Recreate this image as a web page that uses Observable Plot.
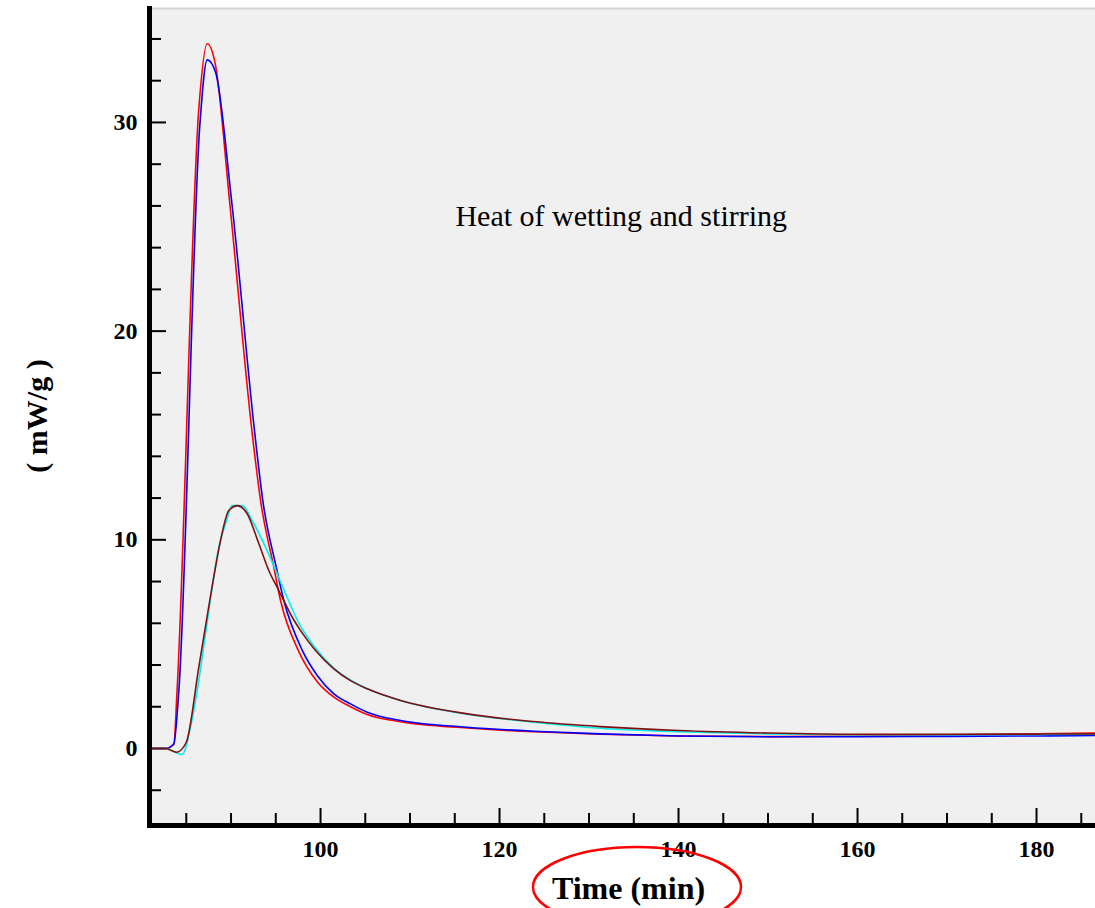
<!DOCTYPE html>
<html><head><meta charset="utf-8">
<script src="https://cdn.jsdelivr.net/npm/d3@7"></script>
<script src="https://cdn.jsdelivr.net/npm/@observablehq/plot@0.6"></script>
<style>html,body{margin:0;padding:0;background:#fff;} svg{display:block}</style>
</head><body><div id="chart"></div>
<script>
// ---- data ----
const redTime  = [81.0, 82.68, 83.61, 83.97, 86.40, 87.34, 88.27, 89.83, 92.37, 93.30, 94.78, 95.53, 97.51, 99.63, 101.49, 103.35, 105.22, 108.94, 116.39, 123.83, 131.28, 140, 150, 160, 170, 180, 186.6];
const redValue = [0, 0, 0.19, 2.78, 30.65, 33.77, 32.73, 26.26, 15.08, 11.88, 8.69, 7.09, 4.70, 3.20, 2.46, 2.00, 1.63, 1.28, 0.98, 0.80, 0.68, 0.60, 0.57, 0.60, 0.65, 0.70, 0.74];

const blueTime  = [81.0, 82.68, 83.61, 84.17, 86.51, 87.34, 88.27, 90.06, 92.66, 93.55, 95.05, 95.90, 97.96, 99.63, 101.49, 103.35, 105.22, 108.94, 116.39, 123.83, 131.28, 140, 150, 160, 170, 180, 186.6];
const blueValue = [0, 0, 0.23, 2.78, 29.85, 33.00, 32.41, 26.26, 15.08, 11.88, 8.69, 7.09, 4.70, 3.50, 2.62, 2.14, 1.74, 1.34, 1.02, 0.83, 0.70, 0.60, 0.56, 0.56, 0.58, 0.60, 0.62];

const cyanTime  = [81.0, 82.68, 84.55, 85.47, 86.40, 87.15, 88.64, 89.39, 90.13, 91.25, 92.37, 93.85, 95.72, 97.65, 99.50, 101.49, 103.35, 105.22, 108.94, 116.39, 123.83, 131.28, 140, 150, 160, 170, 180, 186.6];
const cyanValue = [0, 0, -0.29, 1.02, 3.26, 5.50, 9.65, 10.77, 11.64, 11.64, 10.92, 9.65, 7.80, 5.95, 4.78, 3.85, 3.27, 2.86, 2.30, 1.64, 1.26, 0.97, 0.80, 0.70, 0.66, 0.66, 0.67, 0.68];

const maroonTime  = [81.0, 82.68, 83.91, 85.00, 86.40, 88.27, 88.83, 89.75, 90.69, 91.81, 93.11, 94.22, 95.34, 96.84, 97.77, 99.44, 101.49, 103.35, 105.22, 108.94, 116.39, 123.83, 131.28, 140, 150, 160, 170, 180, 186.6];
const maroonValue = [0, 0, -0.18, 0.30, 3.90, 8.69, 9.97, 11.40, 11.64, 11.25, 9.81, 8.53, 7.57, 6.29, 5.65, 4.70, 3.82, 3.25, 2.86, 2.30, 1.66, 1.29, 1.05, 0.86, 0.74, 0.68, 0.68, 0.69, 0.70];

const yMajor = [0, 10, 20, 30];
const yMinor = [-2, 2, 4, 6, 8, 12, 14, 16, 18, 22, 24, 26, 28, 32, 34];
const xMajor = [100, 120, 140, 160, 180];
const xMinor = [85, 90, 95, 105, 110, 115, 125, 130, 135, 145, 150, 155, 165, 170, 175, 185];

const xTitle = "Time (min)";
const yTitle = "( mW/g )";
const noteText = "Heat of wetting and stirring";
const noteTime = 133.6;
const noteValue = 25.5;

// ---- build ----
const W = 1095, H = 908;
const mL = 149, mR = 0, mT = 8, mB = 83;
const fw = W - mL - mR, fh = H - mT - mB;
const pts = (ts, vs) => ts.map((t, i) => ({t, v: vs[i]}));
const serif = "'Liberation Serif', 'Times New Roman', serif";
const lineOpts = {x: "t", y: "v", strokeWidth: 1.6, curve: "monotone-x"};

const plot = Plot.plot({
  width: W, height: H,
  marginLeft: mL, marginRight: mR, marginTop: mT, marginBottom: mB,
  style: {fontFamily: serif, background: "#fff", color: "#000", overflow: "visible"},
  x: {domain: [80.89, 186.59]},
  y: {domain: [-3.69, 35.46]},
  marks: [
    Plot.frame({fill: "#f0f0f0", stroke: "none"}),
    Plot.frame({anchor: "top", stroke: "#d4d4d4", strokeWidth: 2}),
    Plot.tickY(yMinor, {y: d => d, insetRight: fw - 12, strokeWidth: 2, stroke: "#000"}),
    Plot.tickY(yMajor, {y: d => d, insetRight: fw - 17, strokeWidth: 2, stroke: "#000"}),
    Plot.tickX(xMinor, {x: d => d, insetTop: fh - 12, strokeWidth: 2, stroke: "#000"}),
    Plot.tickX(xMajor, {x: d => d, insetTop: fh - 17, strokeWidth: 2, stroke: "#000"}),
    Plot.line(pts(redTime, redValue), {...lineOpts, stroke: "#ff0000"}),
    Plot.line(pts(blueTime, blueValue), {...lineOpts, stroke: "#0000ff"}),
    Plot.line(pts(cyanTime, cyanValue), {...lineOpts, stroke: "#00f0f0"}),
    Plot.line(pts(maroonTime, maroonValue), {...lineOpts, stroke: "#801010"}),
    Plot.text([noteText], {x: () => noteTime, y: () => noteValue, text: d => d, fontSize: 30, fontFamily: serif, fill: "#000", textAnchor: "middle", lineAnchor: "middle"}),
    Plot.frame({anchor: "left", stroke: "#000", strokeWidth: 5, strokeLinecap: "square"}),
    Plot.frame({anchor: "bottom", stroke: "#000", strokeWidth: 5, strokeLinecap: "square"}),
    Plot.axisY({ticks: yMajor, tickSize: 0, tickPadding: 12, label: null, fontSize: 24, fontWeight: "bold", fontFamily: serif, fill: "#000"}),
    Plot.axisX({ticks: xMajor, tickSize: 0, tickPadding: 14, label: null, fontSize: 24, fontWeight: "bold", fontFamily: serif, fill: "#000"}),
    Plot.text([xTitle], {frameAnchor: "bottom", text: d => d, dx: 6, dy: 63, fontSize: 32, fontWeight: "bold", fontFamily: serif, fill: "#000", textAnchor: "middle", lineAnchor: "middle"}),
    Plot.text([yTitle], {frameAnchor: "left", text: d => d, rotate: -90, dx: -112, dy: -1, fontSize: 30, fontWeight: "bold", fontFamily: serif, fill: "#000", textAnchor: "middle", lineAnchor: "middle"})
  ]
});

// red highlight ellipse around the x-axis title
d3.select(plot).append("ellipse")
  .attr("cx", mL + fw / 2 + 15).attr("cy", H - mB + 62)
  .attr("rx", 104).attr("ry", 40)
  .attr("fill", "none").attr("stroke", "#ff0000").attr("stroke-width", 2.5);

document.getElementById("chart").appendChild(plot);
</script>
</body></html>
